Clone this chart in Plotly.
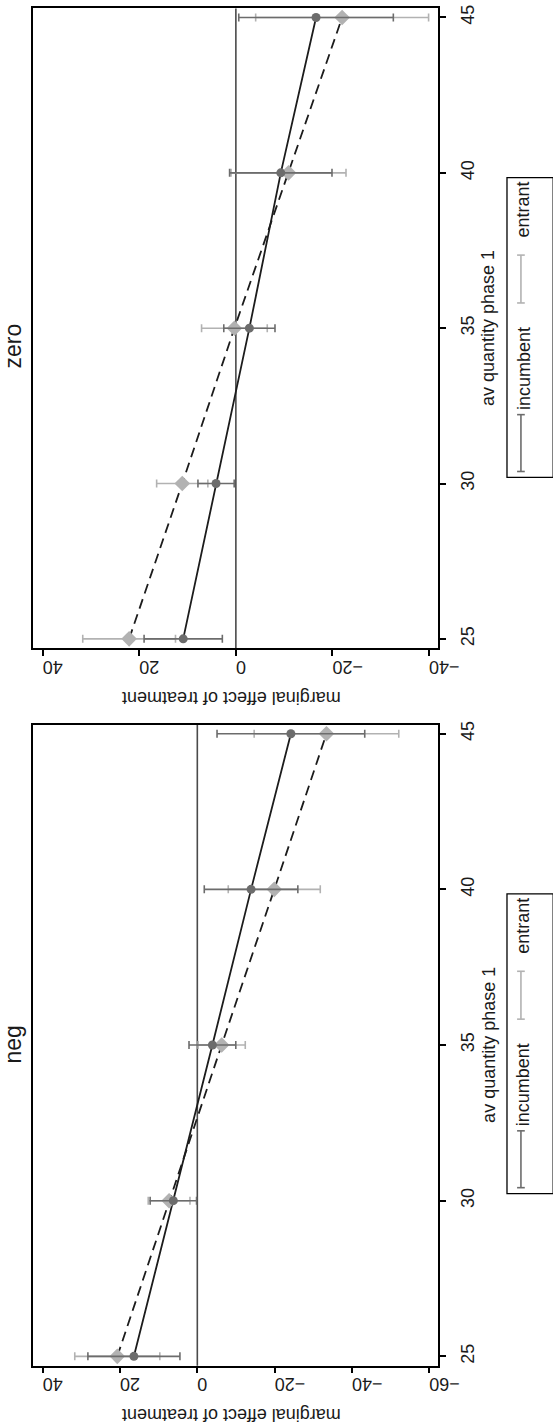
import plotly.graph_objects as go

W, H = 553, 1428

# ---- data ----
qty = [25, 30, 35, 40, 45]
x_ticks = [25, 30, 35, 40, 45]

neg_inc = [16.4, 6.2, -3.9, -13.9, -24.2]
neg_inc_ci = [11.9, 6.0, 6.05, 12.1, 19.1]
neg_ent = [20.7, 7.3, -6.3, -19.9, -33.4]
neg_ent_ci = [11.0, 5.4, 6.1, 11.9, 18.7]

zero_inc = [10.9, 4.1, -2.8, -9.3, -16.6]
zero_inc_ci = [8.1, 3.75, 5.3, 10.6, 16.0]
zero_ent = [22.1, 11.1, 0.3, -10.9, -22.0]
zero_ent_ci = [9.6, 5.3, 6.8, 11.9, 17.9]

neg_eff_ticks = [40, 20, 0, -20, -40, -60]
zero_eff_ticks = [40, 20, 0, -20, -40]
ref_value = 0

x_title = "av quantity phase 1"
y_title = "marginal effect of treatment"
series_names = ["incumbent", "entrant"]

# ---- styling ----
FONT = "Liberation Sans"
TXT = "#1a1a1a"
INC_COL = "#6c6c6c"
ENT_COL = "#b2b2b2"
LINE_COL = "#1c1c1c"


def px_x(p):
    return p / W


def px_y(p):
    return 1 - p / H


def label(text, xp, yp, angle, size):
    return dict(text=text, xref="paper", yref="paper", x=px_x(xp), y=px_y(yp),
                xanchor="center", yanchor="middle", showarrow=False, textangle=angle,
                font=dict(family=FONT, size=size, color=TXT))


fig = go.Figure()

panels = [
    ("zero", zero_inc, zero_inc_ci, zero_ent, zero_ent_ci, zero_eff_ticks, [42.0, -41.93], 4.5, 646.0, ""),
    ("neg", neg_inc, neg_inc_ci, neg_ent, neg_ent_ci, neg_eff_ticks, [42.5, -62.35], 722.7, 1365.5, "2"),
]

shapes = []
annotations = []
left_px, right_px = 34.3, 455.7

for name, inc, inc_ci, ent, ent_ci, ticks, rng, top, bot, sfx in panels:
    xa, ya = "x" + sfx, "y" + sfx
    fig.add_trace(go.Scatter(x=inc, y=qty, mode="lines", xaxis=xa, yaxis=ya,
                             line=dict(color=LINE_COL, width=1.8), showlegend=False,
                             hoverinfo="skip"))
    fig.add_trace(go.Scatter(x=ent, y=qty, mode="lines", xaxis=xa, yaxis=ya,
                             line=dict(color=LINE_COL, width=1.8, dash="10px,6px"),
                             showlegend=False, hoverinfo="skip"))
    fig.add_trace(go.Scatter(x=ent, y=qty, mode="markers", xaxis=xa, yaxis=ya,
                             marker=dict(symbol="diamond", size=12, color=ENT_COL),
                             error_x=dict(type="data", array=ent_ci, color=ENT_COL,
                                          thickness=1.6, width=4),
                             name="entrant", showlegend=False))
    fig.add_trace(go.Scatter(x=inc, y=qty, mode="markers", xaxis=xa, yaxis=ya,
                             marker=dict(symbol="circle", size=9, color=INC_COL),
                             error_x=dict(type="data", array=inc_ci, color=INC_COL,
                                          thickness=1.6, width=4),
                             name="incumbent", showlegend=False))

    fig.layout["xaxis" + sfx] = dict(
        domain=[px_x(left_px), px_x(right_px)], anchor=ya, range=rng,
        tickmode="array", tickvals=ticks, tickangle=180,
        ticks="outside", ticklen=6, tickwidth=1.5, tickcolor="black",
        showline=True, linewidth=1.5, linecolor="black", mirror=True,
        showgrid=False, zeroline=False, ticklabelstandoff=1,
        tickfont=dict(family=FONT, size=18, color=TXT),
    )
    fig.layout["yaxis" + sfx] = dict(
        domain=[px_y(bot), px_y(top)], anchor=xa, range=[24.7, 45.29], side="right",
        tickmode="array", tickvals=x_ticks, tickangle=-90,
        ticks="outside", ticklen=6, tickwidth=1.5, tickcolor="black",
        showline=True, linewidth=1.5, linecolor="black", mirror=True,
        showgrid=False, zeroline=False, ticklabelstandoff=6,
        tickfont=dict(family=FONT, size=18, color=TXT),
    )

    shapes.append(dict(type="line", xref=xa, yref=ya + " domain", x0=ref_value, x1=ref_value,
                       y0=0, y1=1, line=dict(color="#4a4a4a", width=1.6), layer="below"))

    off = top - 722.7
    mid = (top + bot) / 2

    t_y = 343 if name == "zero" else 1043
    annotations.append(label(name, 14, t_y, -90, 23))
    annotations.append(label(y_title, 240, bot + 50, 180, 18))
    annotations.append(label(x_title, 508, mid, -90, 18))

    shapes.append(dict(type="rect", xref="paper", yref="paper",
                       x0=px_x(527), x1=px_x(575), y0=px_y(892.3 + off), y1=px_y(1193 + off),
                       line=dict(color="black", width=1.3), fillcolor="white", layer="below"))
    legend_items = [
        (series_names[1], ENT_COL, 924, 970, 1018),
        (series_names[0], INC_COL, 1084, 1130, 1187),
    ]
    for lab, col, ty, s0, s1 in legend_items:
        annotations.append(label(lab, 544, ty + off, -90, 18))
        sx = 541.5
        shapes.append(dict(type="line", xref="paper", yref="paper",
                           x0=px_x(sx), x1=px_x(sx), y0=px_y(s0 + off), y1=px_y(s1 + off),
                           line=dict(color=col, width=1.6)))
        for sy in (s0, s1):
            shapes.append(dict(type="line", xref="paper", yref="paper",
                               x0=px_x(sx - 4), x1=px_x(sx + 4),
                               y0=px_y(sy + off), y1=px_y(sy + off),
                               line=dict(color=col, width=1.6)))

fig.update_layout(
    width=W, height=H,
    margin=dict(l=0, r=0, t=0, b=0),
    paper_bgcolor="white", plot_bgcolor="white",
    showlegend=False,
    shapes=shapes, annotations=annotations,
    font=dict(family=FONT, color=TXT),
)

fig.write_html("out.html")
